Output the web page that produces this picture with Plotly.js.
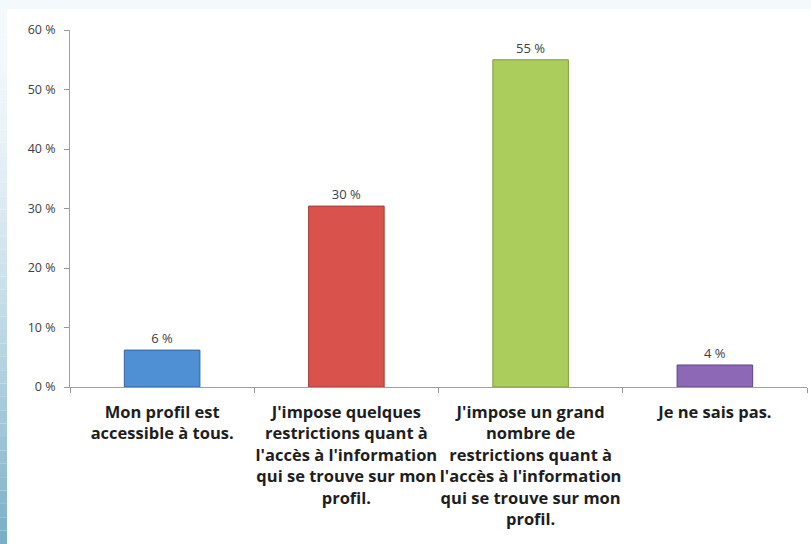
<!DOCTYPE html>
<html>
<head>
<meta charset="utf-8">
<script src="https://cdn.plot.ly/plotly-3.0.1.min.js"></script>
<style>html,body{margin:0;padding:0;background:#fff;}#chart{width:811px;height:544px;}</style>
</head>
<body>
<div id="chart"></div>
<script>
const categories = [
  "Mon profil est<br>accessible à tous.",
  "J'impose quelques<br>restrictions quant à<br>l'accès à l'information<br>qui se trouve sur mon<br>profil.",
  "J'impose un grand<br>nombre de<br>restrictions quant à<br>l'accès à l'information<br>qui se trouve sur mon<br>profil.",
  "Je ne sais pas."
];
const values = [6.2, 30.4, 55.0, 3.7];
const valueLabels = ["6 %", "30 %", "55 %", "4 %"];
const barColors = ["#4f8fd4", "#d9534c", "#abcd5c", "#8c68b6"];
const barEdges = ["#2f659f", "#9e3a34", "#7f9d3c", "#5f4487"];
const yTickVals = [0, 10, 20, 30, 40, 50, 60];
const yTickText = ["0 %", "10 %", "20 %", "30 %", "40 %", "50 %", "60 %"];

// left decorative gradient strip (stepped)
const W = 811, H = 544, L = 70, R = 4, T = 30, B = 157;
const pw = W - L - R, ph = H - T - B;
const px = x => (x - L) / pw;
const py = y => (H - B - y) / ph;
const shapes = [];
shapes.push({type:'rect', xref:'paper', yref:'paper', x0:px(0), x1:px(W), y0:py(9), y1:py(0), fillcolor:'#f4f9fc', line:{width:0}, layer:'below'});
const steps = 40;
for (let i = 0; i < steps; i++) {
  const t = i / (steps - 1);
  const y0 = 9 + (H - 9) * i / steps, y1 = 9 + (H - 9) * (i + 1) / steps;
  const c0 = [244, 249, 252], c1 = [122, 175, 200];
  const k = Math.pow(t, 1.6);
  const c = c0.map((v, j) => Math.round(v + (c1[j] - v) * k));
  shapes.push({type:'rect', xref:'paper', yref:'paper', x0:px(0), x1:px(7), y0:py(y1), y1:py(y0),
    fillcolor:`rgb(${c[0]},${c[1]},${c[2]})`, line:{width:0}, layer:'below'});
}
shapes.push({type:'rect', xref:'paper', yref:'paper', x0:px(0), x1:px(7), y0:py(9), y1:py(0), fillcolor:'#f4f9fc', line:{width:0}, layer:'below'});

const trace = {
  type: 'bar',
  x: categories,
  y: values,
  text: valueLabels,
  textposition: 'outside',
  textfont: {family: 'Open Sans, Liberation Sans, sans-serif', size: 13, color: '#404040'},
  cliponaxis: false,
  marker: {color: barColors, line: {color: barEdges, width: 1}},
  width: 0.41,
  hoverinfo: 'none'
};

const layout = {
  width: W, height: H,
  margin: {l: L, r: R, t: T, b: B, pad: 0},
  paper_bgcolor: '#ffffff',
  plot_bgcolor: 'rgba(0,0,0,0)',
  showlegend: false,
  bargap: 0.59,
  shapes: shapes,
  xaxis: {
    type: 'category',
    tickson: 'boundaries',
    ticks: 'outside', ticklen: 5, tickcolor: '#999999',
    showline: true, linecolor: '#a0a0a0', linewidth: 1,
    showgrid: false, zeroline: false,
    tickangle: 0,
    ticklabelstandoff: 10,
    tickfont: {family: 'Open Sans, Noto Sans, sans-serif', size: 16.5, color: '#1e1e1e', weight: 'bold'},
    automargin: false
  },
  yaxis: {
    range: [0, 60],
    tickvals: yTickVals, ticktext: yTickText,
    ticks: 'outside', ticklen: 5, tickcolor: '#999999',
    showline: true, linecolor: '#a0a0a0', linewidth: 1,
    showgrid: false, zeroline: false,
    ticklabelstandoff: 6,
    tickfont: {family: 'Open Sans, Liberation Sans, sans-serif', size: 12.5, color: '#404040'},
    automargin: false
  }
};

Plotly.newPlot('chart', [trace], layout, {displayModeBar: false, staticPlot: true});
</script>
</body>
</html>
